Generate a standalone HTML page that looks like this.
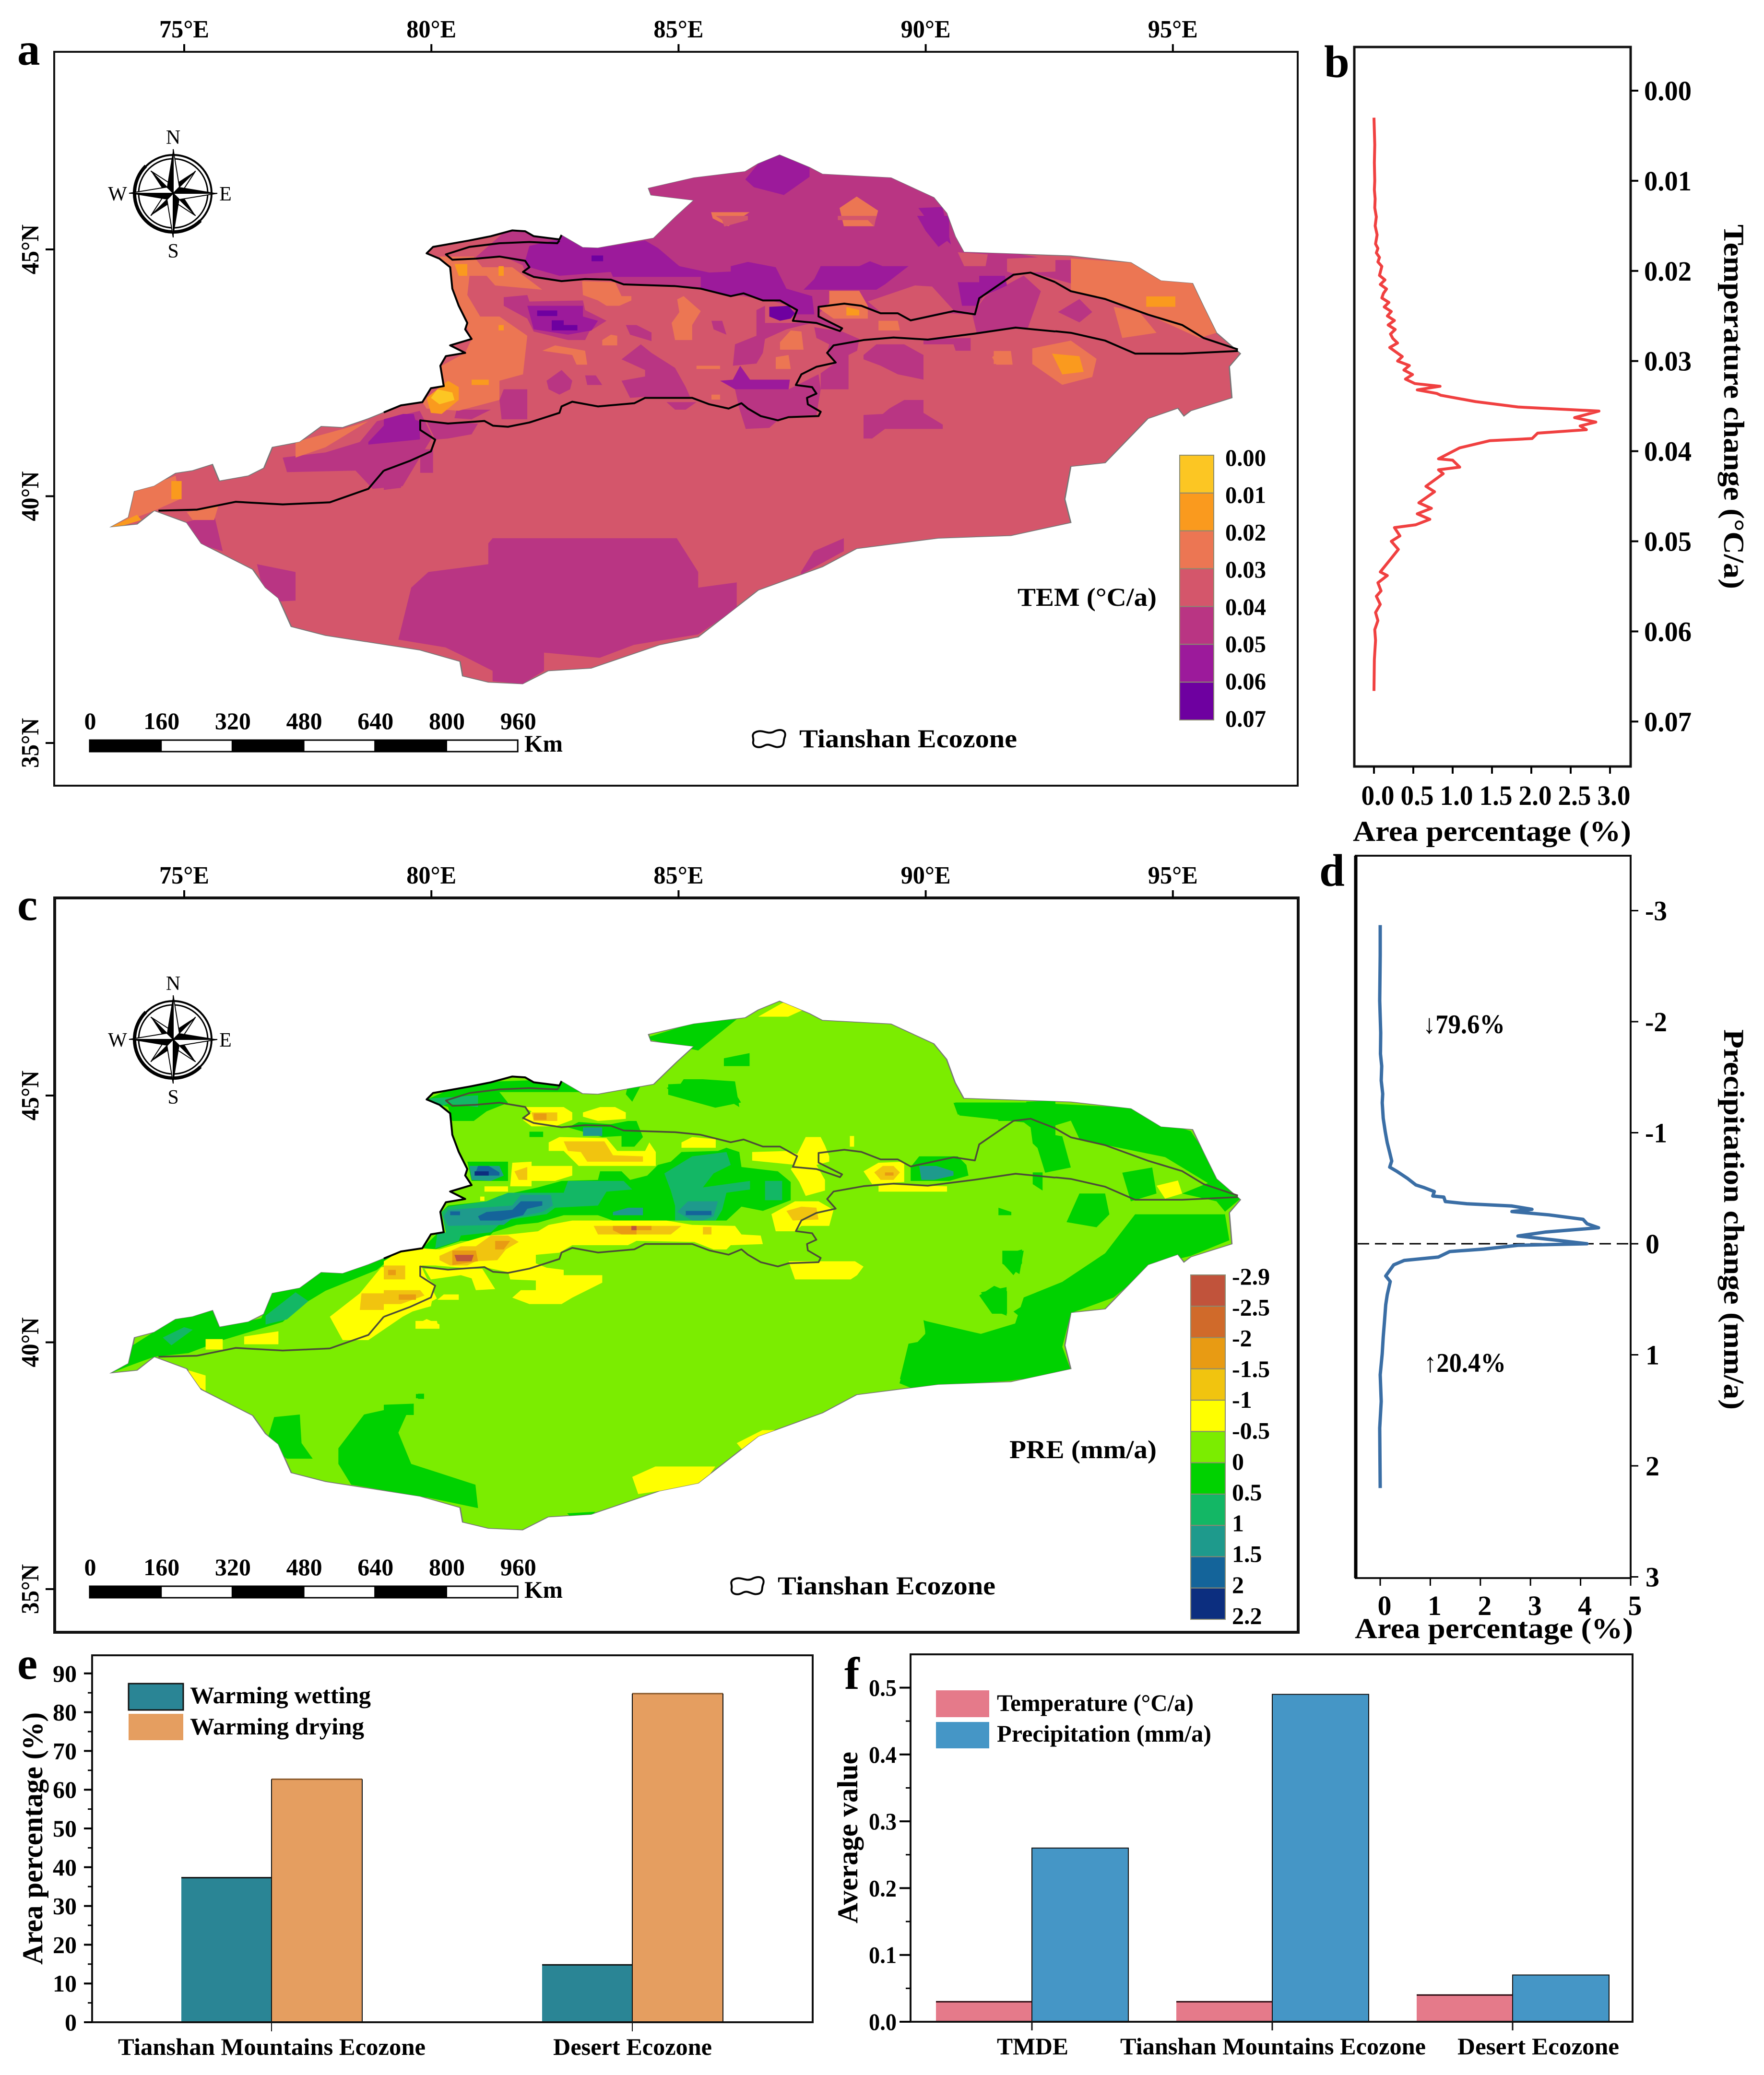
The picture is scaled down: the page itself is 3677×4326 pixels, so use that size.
<!DOCTYPE html>
<html lang="en">
<head>
<meta charset="utf-8">
<title>Tianshan Ecozone temperature and precipitation change</title>
<style>
html,body{margin:0;padding:0;background:#fff}
svg{display:block}
text{font-family:"Liberation Serif","DejaVu Serif",serif;font-weight:bold;fill:#000}
</style>
</head>
<body>
<svg id="fig" xmlns="http://www.w3.org/2000/svg" width="3677" height="4326" viewBox="0 0 3677 4326">
<rect width="3677" height="4326" fill="#fff"/>
<defs>
<path id="outlinePath" transform="scale(1.785714,1.084128)" d="M130,1013 L150,995 155,960 157,945 180,935 205,910 225,905 248,893 256,925 290,915 308,900 318,860 350,850 375,820 400,822 430,805 448,793 468,779 493,773 503,746 518,742 514,703 520,685 543,678 525,664 550,652 543,633 545,621 535,588 528,555 525,514 513,497 498,487 505,475 548,462 573,454 598,443 613,445 623,454 653,460 655,452 680,476 698,477 763,458 790,415 810,385 760,375 757,362 810,342 870,330 885,315 910,298 945,322 960,335 1040,342 1090,380 1105,410 1115,455 1125,485 1250,492 1320,505 1355,540 1392,545 1405,590 1420,640 1448,680 1435,705 1438,765 1390,790 1382,800 1375,785 1340,805 1290,890 1250,897 1243,960 1250,1005 1180,1030 1095,1035 1000,1055 960,1090 885,1135 850,1180 815,1225 770,1240 690,1285 640,1290 610,1315 570,1312 540,1300 537,1272 490,1250 380,1222 340,1205 325,1150 310,1130 295,1095 235,1045 218,1005 180,982 160,1008 Z"/>
<clipPath id="clipMap"><use href="#outlinePath"/></clipPath>
<g id="compass">
<circle r="80" fill="none" stroke="#000" stroke-width="4"/>
<circle r="72" fill="none" stroke="#000" stroke-width="3"/>
<path d="M-57,-57 A80,80 0 0 0 57,57" fill="none" stroke="#000" stroke-width="7"/>
<g id="starDiag"><polygon points="0,-66 -11,-14 0,0" fill="#000"/><polygon points="0,-66 11,-14 0,0" fill="#fff" stroke="#000" stroke-width="2"/></g>
<use href="#starDiag" transform="rotate(45)"/><use href="#starDiag" transform="rotate(135)"/><use href="#starDiag" transform="rotate(225)"/><use href="#starDiag" transform="rotate(315)"/>
<g id="starCard"><polygon points="0,-92 -13,-13 0,0" fill="#000"/><polygon points="0,-92 13,-13 0,0" fill="#fff" stroke="#000" stroke-width="2"/></g>
<use href="#starCard" transform="rotate(90)"/><use href="#starCard" transform="rotate(180)"/><use href="#starCard" transform="rotate(270)"/>
</g>
<path id="blob" d="M4,10 C20,0 30,14 44,8 C58,0 72,4 68,18 C64,26 68,34 60,38 C46,44 38,30 26,36 C12,44 0,38 2,28 C4,20 -2,16 4,10 Z" fill="#fff" stroke="#000" stroke-width="4"/>
</defs>

<!-- PANEL A MAP -->
<g id="mapA">
<use href="#outlinePath" fill="#d4566b" stroke="#777" stroke-width="1.5" vector-effect="non-scaling-stroke"/>
<g clip-path="url(#clipMap)">
<g transform="scale(1.785714,1.084128)">
<g fill="#b93583">
<polygon points="600,430 800,300 1100,300 1160,480 1230,500 1250,500 1250,545 1195,520 1150,565 1135,605 1100,602 1060,612 1030,600 1000,585 965,588 955,605 985,635 960,625 930,620 925,590 900,578 850,565 790,550 730,548 700,535 650,540 615,530 610,510 590,495 555,495"/>
<polygon points="570,1045 575,1035 790,1035 815,1100 815,1130 860,1120 860,1170 815,1220 740,1240 700,1265 635,1255 635,1290 610,1315 575,1310 575,1290 545,1265 520,1245 465,1230 480,1130 500,1100 570,1085"/>
<polygon points="215,1005 250,990 260,1060 230,1045"/>
<polygon points="300,1085 345,1100 345,1155 310,1158"/>
<polygon points="935,1100 950,1060 985,1035 985,1060 935,1105"/>
<polygon points="330,880 380,870 420,850 440,810 490,790 505,840 490,880 470,935 435,940 415,905 335,908"/>
<polygon points="1150,570 1195,530 1215,560 1200,630 1140,640 1135,605"/>
<polygon points="1235,600 1260,575 1275,600 1260,620"/>
</g>
<g fill="#9c1a9b">
<polygon points="870,345 885,315 910,298 945,322 945,340 915,375 880,360"/>
<polygon points="1072,400 1100,398 1110,470 1090,440"/>
<polygon points="430,850 450,815 470,800 490,810 490,845 430,855"/>
</g>
<g fill="#ec7653">
<polygon points="830,408 875,408 850,435 832,420"/>
<polygon points="980,400 1000,378 1025,405 1020,435 985,435"/>
<polygon points="1250,497 1320,505 1392,545 1420,640 1400,650 1340,605 1300,580 1250,560"/>
<polygon points="1300,590 1330,600 1350,640 1310,650"/>
<polygon points="1205,670 1250,655 1280,690 1275,725 1240,740 1205,700"/>
<polygon points="1160,675 1180,675 1182,700 1160,700"/>
<polygon points="130,1013 150,990 155,945 205,915 210,960 180,982"/>
<polygon points="345,850 400,825 430,810 380,860 345,880"/>
<polygon points="218,985 255,972 250,1000 225,1000"/>
</g>
<g fill="#fa9a1e">
<polygon points="1338,570 1372,570 1372,590 1338,590"/>
<polygon points="1228,680 1260,685 1265,715 1240,720"/>
<polygon points="200,925 212,925 212,960 200,960"/>
<polygon points="130,1013 160,990 165,1000 145,1010"/>
</g>
</g>
<g transform="translate(800,450) scale(.892857,.446429)">
<g fill="#b93583">
<polygon points="280,380 335,370 340,400 465,395 470,440 520,490 480,540 470,580 430,580 350,540 335,480 280,420"/>
<polygon points="565,510 590,510 625,545 625,585 575,555"/>
<polygon points="555,670 600,600 625,640 680,710 705,800 715,845 610,845 575,850 555,770 610,750 610,720"/>
<polygon points="380,770 415,720 440,770 435,810 410,835 385,810"/>
<polygon points="470,745 495,745 510,790 475,790"/>
<polygon points="270,860 280,810 335,810 335,950 275,950"/>
<polygon points="170,905 250,905 205,950 165,945"/>
<polygon points="765,490 790,490 800,555 770,530"/>
<polygon points="890,500 1000,500 940,530 890,575 885,640 870,690 815,700 820,600 870,560 870,440 890,420"/>
<polygon points="820,810 945,810 1015,740 1020,810 1010,930 945,935 920,955 900,990 845,995 830,900"/>
<polygon points="1005,520 1070,540 1110,575 1105,630 1085,650 1085,810 1020,810 1020,735 1055,685 1035,640 1040,600 1010,570"/>
<polygon points="1260,575 1370,570 1370,630 1335,630 1330,600 1260,600"/>
<polygon points="1120,650 1150,600 1215,600 1260,650 1260,765 1200,740 1160,700 1120,670"/>
<polygon points="1120,930 1165,925 1180,900 1215,860 1260,860 1260,920 1305,975 1305,995 1170,995 1140,1040 1120,1040"/>
<polygon points="0,1180 0,1280 40,1270 45,1210"/>
<polygon points="85,1090 115,1090 115,1200 85,1200"/>
<polygon points="100,960 220,970 205,1020 150,1040 120,1045"/>
<polygon points="660,870 730,870 705,905 680,905"/>
</g>
<g fill="#9c1a9b">
<polygon points="340,140 410,110 415,90 465,148 500,150 610,115 640,150 690,235 760,265 810,260 810,235 850,215 915,240 940,340 1000,375 1005,460 965,460 960,430 925,395 885,395 840,362 810,375 740,340 740,285 535,285 530,262 410,280 340,240 330,210"/>
<polygon points="1020,235 1110,235 1135,212 1165,235 1225,235 1170,320 1150,345 980,345 1005,295"/>
<polygon points="1340,310 1390,310 1390,280 1450,280 1455,325 1390,385 1385,420 1350,420"/>
<polygon points="1245,0 1320,0 1320,110 1295,145 1265,70"/>
<polygon points="335,420 465,420 465,470 500,490 485,535 430,555 350,530"/>
<polygon points="785,770 815,765 832,700 855,765 948,765 945,810 820,810"/>
<polygon points="0,950 45,925 70,925 85,1040 0,1040"/>
</g>
<g fill="#d4566b">
<polygon points="1130,400 1240,325 1280,330 1330,440 1230,480 1160,450"/>
<polygon points="1340,170 1410,180 1405,235 1355,235"/>
<polygon points="1455,200 1568,190 1568,260 1510,265 1470,270 1455,260"/>
<polygon points="775,0 850,0 850,20 795,50 790,20"/>
<polygon points="1060,0 1150,0 1145,50 1130,20 1060,20"/>
</g>
<g fill="#ec7653">
<polygon points="130,190 210,190 230,240 300,240 370,345 260,325 240,280 200,280 195,370 210,420 225,470 270,470 335,560 325,740 270,770 270,860 175,910 100,900 90,870 135,795 135,700 190,640 205,575 190,500 165,370"/>
<polygon points="463,305 540,310 555,375 578,375 578,395 550,420 520,420 500,395 465,370"/>
<polygon points="685,390 700,375 740,445 720,510 720,580 680,580 672,500 690,450"/>
<polygon points="510,580 530,555 545,560 545,605 510,605"/>
<polygon points="370,630 400,605 470,630 475,695 450,695 440,650"/>
<polygon points="925,590 950,535 975,540 980,625 925,625"/>
<polygon points="915,660 945,650 950,715 915,715"/>
<polygon points="730,700 785,700 785,715 730,715"/>
<polygon points="765,835 785,835 785,858 765,858"/>
<polygon points="1040,350 1110,350 1130,420 1130,480 1050,480 1015,430 1040,410"/>
<polygon points="1155,490 1200,490 1205,535 1155,535"/>
<polygon points="1420,660 1440,630 1465,660 1468,695 1430,695"/>
</g>
<g fill="#fa9a1e">
<polygon points="165,225 195,225 195,280 175,280"/>
<polygon points="268,235 280,235 280,280 268,280"/>
<polygon points="205,765 245,765 245,790 205,790"/>
<polygon points="268,510 280,510 280,535 268,535"/>
<polygon points="100,850 125,810 150,770 175,800 175,860 135,925 110,920"/>
<polygon points="1080,425 1110,440 1110,465 1080,465"/>
</g>
<g fill="#fcc623">
<polygon points="110,850 125,810 160,825 165,860 130,880"/>
</g>
<g fill="#6e00a0">
<polygon points="485,185 512,185 512,212 485,212"/>
<polygon points="358,442 405,442 405,468 358,468"/>
<polygon points="392,488 420,488 420,510 452,510 452,535 392,535"/>
<polygon points="900,425 945,420 960,455 950,480 925,490 900,470"/>
</g>
</g>
</g>
<g id="boundA" fill="none" stroke="#000" stroke-width="4" stroke-linejoin="round">
<g transform="translate(800,450) scale(.892857,.446429)">
<polyline vector-effect="non-scaling-stroke" points="410,115 405,128 340,122 270,128 200,145 145,180 160,205 215,200 270,190 330,210 340,240 325,262 350,285 415,305 470,295 530,298 560,320 680,328 740,340 810,375 840,362 885,395 925,395 965,440 955,490 1010,500 1065,538 1070,525 1015,470 1015,425 1075,410 1115,420 1160,455 1200,455 1230,488 1330,445 1380,460 1390,385 1470,275 1510,265 1568,310"/>
<polyline vector-effect="non-scaling-stroke" points="1568,540 1475,522 1380,550 1270,578 1190,568 1120,580 1050,605 1035,640 1055,685 1010,705 975,740 962,790 1000,800 1010,830 988,850 990,880 1020,915 1015,935 945,940 920,955 880,935 850,900 835,875 805,900 760,880 720,850 610,850 585,875 500,890 440,868 415,890 410,920 340,965 290,985 255,980 235,958 150,970 85,955 85,1000 120,1045 110,1100 60,1145 0,1190"/>
<polyline vector-effect="non-scaling-stroke" points="0,918 40,885 90,870 110,805 140,795 132,700 145,655 190,640 155,605 205,575 190,530 195,500 175,420 160,340 155,240 130,200 100,175 115,145 200,115 250,95 300,68 330,72 350,95 410,110 415,90"/>
</g>
<g transform="scale(1.785714,1.084128)">
<polyline vector-effect="non-scaling-stroke" points="1232,543 1250,560 1290,575 1340,605 1380,625 1405,650 1445,672"/>
<polyline vector-effect="non-scaling-stroke" points="1232,637 1250,640 1290,655 1325,680 1380,680 1445,675"/>
<polyline vector-effect="non-scaling-stroke" points="448,905 430,940 385,966 330,970 275,965 230,980 185,982"/>
</g>
</g>
</g>

<!-- PANEL C MAP -->
<g id="mapC" transform="translate(0,1764)">
<use href="#outlinePath" fill="#7bed00" stroke="#777" stroke-width="1.5" vector-effect="non-scaling-stroke"/>
<g clip-path="url(#clipMap)">
<g transform="translate(0,-13) scale(1.785714,1.084128)">
<g fill="#00d200">
<polygon points="130,1025 150,977 205,920 250,905 258,937 305,920 318,872 375,832 430,817 465,792 440,827 380,867 350,897 330,927 260,962 220,987 180,994 150,1012"/>
<polygon points="320,1110 350,1105 352,1160 365,1190 335,1190 310,1165"/>
<polygon points="395,1170 425,1105 480,1085 465,1140 480,1200 555,1240 558,1285 500,1265 410,1240 395,1200"/>
<polygon points="488,1065 495,1065 495,1075 488,1075"/>
<polygon points="1050,1045 1060,985 1080,950 1080,925 1145,950 1185,930 1195,880 1240,850 1290,795 1325,720 1380,720 1430,720 1435,770 1390,800 1345,818 1300,880 1250,910 1240,975 1250,1020 1180,1040 1090,1050 1065,1055"/>
<polygon points="1245,735 1260,680 1290,680 1295,720 1280,745"/>
<polygon points="1145,870 1175,860 1175,915 1160,905"/>
<polygon points="1170,790 1195,790 1190,835 1170,815"/>
<polygon points="1285,800 1300,800 1300,812 1285,812"/>
<polygon points="1115,505 1200,505 1320,515 1350,540 1390,560 1410,610 1448,690 1430,715 1420,695 1380,680 1410,660 1360,610 1300,590 1260,575 1250,540 1210,560 1205,545 1120,530"/>
<polygon points="1205,560 1240,570 1250,630 1220,640"/>
<polygon points="1310,640 1345,630 1350,680 1320,695"/>
<polygon points="780,470 850,465 865,505 835,515 780,490"/>
<polygon points="845,420 875,410 875,435 845,435"/>
<polygon points="755,380 810,352 860,345 830,385 815,405 760,385"/>
<polygon points="662,1295 695,1292 690,1300 665,1300"/>
</g>
<g fill="#13b765">
<polygon points="310,915 345,870 360,887 335,922 310,932"/>
<polygon points="190,957 215,937 225,942 200,972"/>
</g>
<g fill="#ffff00">
<polygon points="385,917 420,872 445,822 490,812 495,832 510,882 470,917 430,962 400,962"/>
<polygon points="240,960 260,960 260,980 240,980"/>
<polygon points="285,955 325,945 325,970 285,970"/>
<polygon points="485,925 510,925 512,940 485,940"/>
<polygon points="220,1020 240,1030 240,1060 220,1040"/>
<polygon points="738,1225 765,1205 835,1205 820,1240 745,1258"/>
<polygon points="860,1160 890,1135 915,1135 870,1180"/>
<polygon points="885,340 915,312 940,325 920,340"/>
<polygon points="1350,665 1375,655 1380,680 1360,690"/>
</g>
<g fill="#f1c40f">
<polygon points="422,872 488,872 488,904 420,904"/>
<polygon points="450,830 470,830 470,850 450,850"/>
</g>
</g>
<g transform="translate(800,486) scale(.892857,.446429)">
<g fill="#00d200">
<polygon points="660,40 690,30 700,0 745,0 820,10 830,130 805,100 755,55 725,80 685,80"/>
<polygon points="570,30 600,30 580,105 565,70"/>
<polygon points="100,95 140,60 270,10 410,0 460,60 410,60 270,60 290,110 240,150 210,195 160,195 150,130"/>
<polygon points="1330,110 1430,110 1430,130 1500,130 1500,105 1568,100 1568,400 1515,300 1510,225 1490,195 1435,195 1430,165 1340,165"/>
<polygon points="455,200 530,210 570,195 590,195 605,270 585,315 555,315 555,265 510,270 430,225"/>
<polygon points="340,245 372,245 372,270 340,270"/>
<polygon points="415,475 500,470 505,430 555,430 575,470 615,450 640,400 670,385 695,340 780,335 800,320 830,340 835,410 920,430 950,480 950,565 885,615 835,595 800,660 535,660 500,635 420,635 360,670 310,680 255,715 235,755 180,755 120,795 90,790 125,720 145,715 135,620 150,590 240,570 270,545 360,505"/>
<polygon points="1230,410 1250,360 1340,360 1360,400 1365,450 1320,475 1230,475"/>
<polygon points="1205,1400 1225,1235 1280,1215 1265,1190 1260,1125 1320,1170 1345,1190 1420,1190 1425,1210 1490,1190 1510,1150 1470,1085 1530,1010 1568,985 1568,1400"/>
<polygon points="1390,1010 1425,965 1455,990 1455,1095 1420,1095"/>
<polygon points="1445,820 1490,795 1490,860 1470,915 1445,860"/>
<polygon points="1435,600 1465,620 1465,635 1435,635"/>
<polygon points="75,1470 92,1470 92,1490 75,1490"/>
<polygon points="0,1520 70,1515 70,1568 0,1568"/>
<polygon points="1515,435 1538,435 1538,520 1515,490"/>
<polygon points="195,385 290,385 290,475 205,475"/>
</g>
<g fill="#13b765">
<polygon points="105,90 220,75 220,130 150,115 135,125"/>
<polygon points="420,530 430,475 560,475 580,515 520,525 500,590 400,600 380,630 280,660 250,715 180,730 175,755 120,790 125,720 145,715 135,620 150,595 240,570 290,530"/>
<polygon points="655,440 720,360 800,340 810,400 770,440 745,505 855,475 855,515 800,530 790,610 775,660 680,660 680,590 670,520"/>
<polygon points="890,475 930,475 930,565 890,565"/>
</g>
<g fill="#1e9a8c">
<polygon points="465,225 510,225 510,265 465,265"/>
<polygon points="150,610 300,590 320,540 390,540 395,590 370,620 300,650 280,680 150,685 140,640"/>
<polygon points="685,620 710,570 780,570 770,640 745,660 720,660"/>
<polygon points="535,620 570,600 605,600 605,635 535,635"/>
<polygon points="200,405 270,405 280,450 250,475 205,470"/>
<polygon points="1250,405 1290,405 1330,430 1330,450 1285,470 1255,470"/>
</g>
<g fill="#14649a">
<polygon points="220,640 240,620 300,610 320,570 370,570 370,590 335,605 325,635 275,660 225,660"/>
<polygon points="705,615 765,615 765,635 705,635"/>
<polygon points="220,405 245,405 270,435 270,450 212,450"/>
<polygon points="155,617 178,617 178,635 155,635"/>
</g>
<g fill="#0c2e7f">
<polygon points="212,430 245,430 245,450 212,450"/>
</g>
<g fill="#ffff00">
<polygon points="325,130 420,130 440,155 440,190 400,220 345,220 325,190 345,150"/>
<polygon points="465,155 505,130 540,130 565,155 565,185 500,195 465,175"/>
<polygon points="385,295 410,270 520,275 545,335 610,335 620,295 635,340 635,405 455,405 420,335 385,335"/>
<polygon points="695,295 720,270 775,280 775,320 695,320"/>
<polygon points="860,340 945,335 965,350 985,270 1020,270 1030,310 1040,360 1040,385 1010,400 1030,470 1030,520 985,545 970,480 950,420 960,400 860,380"/>
<polygon points="1088,265 1098,265 1098,315 1088,315"/>
<polygon points="300,390 345,385 345,405 440,405 440,450 400,475 345,475 345,500 295,500"/>
<polygon points="235,500 290,500 290,525 235,525"/>
<polygon points="1120,430 1155,390 1215,385 1215,480 1140,490"/>
<polygon points="1155,490 1315,500 1315,525 1155,525"/>
<polygon points="905,630 960,570 1015,570 1050,610 1040,685 975,685 960,710 915,710"/>
<polygon points="0,850 40,800 90,790 130,795 240,730 290,725 360,710 385,680 440,660 660,660 720,680 820,685 835,725 880,730 885,770 810,775 800,795 770,795 725,760 590,755 570,775 440,775 410,810 355,820 355,860 380,880 300,905 240,880 180,880 120,870 90,870 80,900 120,960 110,1060 40,1100 0,1165"/>
<polygon points="95,885 230,885 260,980 215,985 205,930 180,915 110,935"/>
<polygon points="290,895 380,880 420,890 420,915 510,915 510,950 440,1020 415,1050 340,1050 300,1020 320,985 355,985 355,940 295,935"/>
<polygon points="140,1005 175,1005 175,1030 125,1030"/>
<polygon points="75,1145 100,1120 130,1145 130,1165 75,1165"/>
<polygon points="945,850 1100,850 1120,875 1105,915 1090,935 960,935"/>
<polygon points="225,548 235,548 235,568 225,568"/>
</g>
<g fill="#f1c40f">
<polygon points="345,155 405,155 405,195 350,195"/>
<polygon points="420,290 515,290 535,355 605,360 605,385 475,385 460,340 430,335"/>
<polygon points="305,430 335,410 335,470 315,470"/>
<polygon points="1145,435 1165,405 1190,405 1205,435 1190,470 1160,470"/>
<polygon points="940,615 975,595 1010,600 1015,655 955,660"/>
<polygon points="490,685 695,685 670,725 500,725"/>
<polygon points="745,690 765,690 765,725 745,725"/>
<polygon points="130,825 180,780 215,780 250,730 290,730 315,760 285,795 265,845 215,850 195,870 155,870 130,845"/>
<polygon points="0,870 50,870 50,935 0,935"/>
<polygon points="0,985 85,985 95,1010 40,1050 0,1050"/>
</g>
<g fill="#e89b13">
<polygon points="1170,435 1190,435 1190,450 1170,450"/>
<polygon points="535,685 625,685 625,705 590,705 590,725 555,725 535,705"/>
<polygon points="160,800 215,800 220,850 160,868"/>
<polygon points="260,755 295,755 280,795 260,795"/>
<polygon points="10,890 28,890 28,915 10,915"/>
<polygon points="35,1005 75,1005 75,1030 35,1030"/>
<polygon points="350,160 380,160 380,190 350,190"/>
</g>
<g fill="#c1533b">
<polygon points="165,820 210,820 205,850 170,850"/>
<polygon points="578,685 590,685 590,705 578,705"/>
</g>
</g>
</g>
<g fill="none" stroke="#4c4c38" stroke-width="3.5" stroke-linejoin="round">
<g transform="translate(800,450) scale(.892857,.446429)">
<polyline vector-effect="non-scaling-stroke" points="410,115 405,128 340,122 270,128 200,145 145,180 160,205 215,200 270,190 330,210 340,240 325,262 350,285 415,305 470,295 530,298 560,320 680,328 740,340 810,375 840,362 885,395 925,395 965,440 955,490 1010,500 1065,538 1070,525 1015,470 1015,425 1075,410 1115,420 1160,455 1200,455 1230,488 1330,445 1380,460 1390,385 1470,275 1510,265 1568,310"/>
<polyline vector-effect="non-scaling-stroke" points="1568,540 1475,522 1380,550 1270,578 1190,568 1120,580 1050,605 1035,640 1055,685 1010,705 975,740 962,790 1000,800 1010,830 988,850 990,880 1020,915 1015,935 945,940 920,955 880,935 850,900 835,875 805,900 760,880 720,850 610,850 585,875 500,890 440,868 415,890 410,920 340,965 290,985 255,980 235,958 150,970 85,955 85,1000 120,1045 110,1100 60,1145 0,1190"/>
</g>
<g transform="scale(1.785714,1.084128)">
<polyline vector-effect="non-scaling-stroke" points="1232,543 1250,560 1290,575 1340,605 1380,625 1405,650 1445,672"/>
<polyline vector-effect="non-scaling-stroke" points="1232,637 1250,640 1290,655 1325,680 1380,680 1445,675"/>
<polyline vector-effect="non-scaling-stroke" points="448,905 430,940 385,966 330,970 275,965 230,980 185,982"/>
</g>
</g>
<g transform="translate(800,450) scale(.892857,.446429)" fill="none" stroke="#000" stroke-width="4" stroke-linejoin="round">
<polyline vector-effect="non-scaling-stroke" points="0,918 40,885 90,870 110,805 140,795 132,700 145,655 190,640 155,605 205,575 190,530 195,500 175,420 160,340 155,240 130,200 100,175 115,145 200,115 250,95 300,68 330,72 350,95 410,110 415,90"/>
</g>
</g>

<!-- compass roses -->
<use href="#compass" transform="translate(361,403)"/>
<use href="#compass" transform="translate(361,2167)"/>

<!-- scale icons / tianshan keys -->
<use href="#blob" transform="translate(1568,1518)"/>
<use href="#blob" transform="translate(1523,3284)"/>
<text x="1666" y="1558" font-size="54" textLength="454" lengthAdjust="spacingAndGlyphs">Tianshan Ecozone</text>
<text x="1621" y="3324" font-size="54" textLength="454" lengthAdjust="spacingAndGlyphs">Tianshan Ecozone</text>
<text x="2121" y="1263" font-size="54" textLength="290" lengthAdjust="spacingAndGlyphs">TEM (°C/a)</text>
<text x="2104" y="3040" font-size="54" textLength="307" lengthAdjust="spacingAndGlyphs">PRE (mm/a)</text>

<!-- panel letters -->
<text x="36" y="135" font-size="95">a</text>
<text x="2760" y="161" font-size="95">b</text>
<text x="36" y="1918" font-size="95">c</text>
<text x="2750" y="1847" font-size="95">d</text>
<text x="36" y="3500" font-size="95">e</text>
<text x="1760" y="3521" font-size="95">f</text>

<!-- axis titles -->
<text x="2820" y="1753" font-size="60" textLength="580" lengthAdjust="spacingAndGlyphs">Area percentage (%)</text>
<text x="2824" y="3415" font-size="60" textLength="580" lengthAdjust="spacingAndGlyphs">Area percentage (%)</text>
<text transform="translate(3594,468) rotate(90)" font-size="60" textLength="760" lengthAdjust="spacingAndGlyphs">Temperature change (°C/a)</text>
<text transform="translate(3594,2146) rotate(90)" font-size="60" textLength="793" lengthAdjust="spacingAndGlyphs">Precipitation change (mm/a)</text>
<text transform="translate(88,4096) rotate(-90)" font-size="60" textLength="526" lengthAdjust="spacingAndGlyphs">Area percentage (%)</text>
<text transform="translate(1787,4010) rotate(-90)" font-size="60" textLength="358" lengthAdjust="spacingAndGlyphs">Average value</text>
<text x="2966" y="2154" font-size="56" textLength="171" lengthAdjust="spacingAndGlyphs">↓79.6%</text>
<text x="2968" y="2860" font-size="56" textLength="171" lengthAdjust="spacingAndGlyphs">↑20.4%</text>

<!-- legends for e and f -->
<rect x="268" y="3510" width="114" height="55" fill="#2a8595" stroke="#111" stroke-width="3"/>
<rect x="268" y="3573" width="114" height="55" fill="#e59e60"/>
<text x="396" y="3551" font-size="50" textLength="377" lengthAdjust="spacingAndGlyphs">Warming wetting</text>
<text x="396" y="3616" font-size="50" textLength="363" lengthAdjust="spacingAndGlyphs">Warming drying</text>
<rect x="1951" y="3524" width="111" height="56" fill="#e57a8a"/>
<rect x="1951" y="3590" width="111" height="55" fill="#4596c6"/>
<text x="2078" y="3567" font-size="50" textLength="410" lengthAdjust="spacingAndGlyphs">Temperature (°C/a)</text>
<text x="2078" y="3631" font-size="50" textLength="447" lengthAdjust="spacingAndGlyphs">Precipitation (mm/a)</text>

<g id="dyn"></g>
</svg>

<script>
/* ---- map axes and legends ---- */
const lonTicks = ['75°E','80°E','85°E','90°E','95°E'];
const latTicks = ['45°N','40°N','35°N'];
const scaleLabels = ['0','160','320','480','640','800','960'];
const temLegendClasses = ['0.00','0.01','0.02','0.03','0.04','0.05','0.06','0.07'];
const temLegendColors = ['#fcc623','#fa9a1e','#ec7653','#d4566b','#b93583','#9c1a9b','#6e00a0'];
const preLegendClasses = ['-2.9','-2.5','-2','-1.5','-1','-0.5','0','0.5','1','1.5','2','2.2'];
const preLegendColors = ['#c1533b','#d06a2a','#e89b13','#f1c40f','#ffff00','#7bed00','#00d200','#13b765','#1e9a8c','#14649a','#0c2e7f'];

/* ---- panel b: temperature change distribution ---- */
const tempChange = [.003,.006,.008,.010,.011,.012,.013,.014,.015,.016,.017,.0175,.018,.0185,.019,.0195,.0205,.021,.0215,.022,.0225,.023,.0235,.024,.0245,.025,.0255,.026,.0265,.027,.0275,.028,.0285,.029,.0295,.030,.0305,.031,.0315,.032,.0325,.0328,.0332,.0336,.0338,.0345,.0351,.03555,.03628,.03677,.0372,.03762,.038,.0386,.03884,.03963,.04085,.0410,.04177,.04207,.0425,.0439,.0445,.04573,.04634,.04695,.04756,.04817,.04848,.0494,.05,.0509,.0521,.0534,.0538,.0546,.0555,.0561,.057,.0579,.0588,.0598,.061,.0631,.0666];
const tempArea = [0,.01,.005,.01,.005,.015,.01,.03,.015,.04,.02,.05,.03,.07,.05,.10,.07,.14,.08,.16,.12,.10,.19,.13,.22,.17,.26,.18,.27,.21,.24,.30,.20,.28,.36,.30,.45,.38,.49,.40,.52,.84,.55,.80,.85,1.29,1.83,2.86,2.55,2.82,2.62,2.70,2.08,2.01,1.47,1.09,.82,1.0,1.09,.82,.88,.66,.77,.57,.73,.55,.71,.53,.26,.33,.22,.31,.20,.08,.17,.05,.09,.03,.08,.02,.05,.01,.02,.005,0];
const bXTicks = ['0.0','0.5','1.0','1.5','2.0','2.5','3.0'];
const bYTicks = ['0.00','0.01','0.02','0.03','0.04','0.05','0.06','0.07'];

/* ---- panel d: precipitation change distribution ---- */
const precipChange = [-2.87,-2.6,-2.19,-1.9,-1.71,-1.6,-1.47,-1.35,-1.27,-1.13,-1.01,-.91,-.82,-.745,-.69,-.65,-.59,-.53,-.505,-.47,-.43,-.42,-.38,-.36,-.34,-.31,-.29,-.26,-.22,-.18,-.144,-.106,-.07,-.034,0,.014,.048,.07,.12,.15,.19,.29,.34,.46,.55,.7,.84,.99,1.18,1.42,1.66,2.2];
const precipArea = [0,0,-.01,.01,.005,.03,.02,.05,.04,.06,.1,.14,.19,.23,.19,.34,.54,.71,.88,1.08,1.05,1.27,1.3,1.73,2.63,3.03,2.63,3.37,4.05,4.13,4.36,3.31,2.75,3.48,4.13,2.75,2.07,1.39,1.16,.48,.27,.11,.2,.14,.11,.085,.06,.04,0,.02,-.01,0];
const dXTicks = ['0','1','2','3','4','5'];
const dYTicks = ['-3','-2','-1','0','1','2','3'];

/* ---- panel e ---- */
const eCategories = ['Tianshan Mountains Ecozone','Desert Ecozone'];
const eWetting = [37.3,14.8];
const eDrying = [62.7,84.8];
const eYTicks = ['0','10','20','30','40','50','60','70','80','90'];

/* ---- panel f ---- */
const fCategories = ['TMDE','Tianshan Mountains Ecozone','Desert Ecozone'];
const fTemperature = [.03,.03,.04];
const fPrecipitation = [.26,.49,.07];
const fYTicks = ['0.0','0.1','0.2','0.3','0.4','0.5'];

const NS = 'http://www.w3.org/2000/svg';
const layer = document.getElementById('dyn');
function mk(tag, attrs, text) {
  const n = document.createElementNS(NS, tag);
  for (const k in attrs) n.setAttribute(k, attrs[k]);
  if (text !== undefined) n.textContent = text;
  layer.appendChild(n);
  return n;
}
function rectFrame(x0, y0, x1, y1, w) {
  return mk('rect', {x: x0, y: y0, width: x1 - x0, height: y1 - y0, fill: 'none', stroke: '#111', 'stroke-width': w});
}
let e;

/* axis functions */
const lonX = i => 384 + i * 515.2;
const latY = (i, off) => off + 520 + i * 514.5;
const scaleX = i => 187 + i * 148.7;
const bX = v => 2864 + v * 164;
const bY = v => 189 + v * 18790;
const dX = v => 2877 + v * 104.4;
const dY = v => 2593 + v * 231.5;
const eY = v => 4216 - v * 8.08;
const eX = i => 566 + i * 752;
const fY = v => 4215 - v * 1393;
const fX = i => 2151 + i * 501;

/* map frames */
e = rectFrame(113, 108, 2705, 1638, 4);


e = rectFrame(114, 1872, 2706, 3403, 6);



[0, 1764].forEach(function (off) {
  lonTicks.forEach(function (lab, i) {
    e = mk('line', {x1: lonX(i), x2: lonX(i), y1: off + 108, y2: off + 92, stroke: '#000', 'stroke-width': 4});
    
    
    e = mk('text', {x: lonX(i), y: off + 78, 'font-size': 52, 'text-anchor': 'middle', textLength: 104, lengthAdjust: 'spacingAndGlyphs'}, lab);
    
    
  });
  latTicks.forEach(function (lab, i) {
    e = mk('line', {x1: 95, x2: 113, y1: latY(i, off), y2: latY(i, off), stroke: '#000', 'stroke-width': 4});
    
    
    e = mk('text', {transform: 'translate(80,' + latY(i, off) + ') rotate(-90)', 'font-size': 52, 'text-anchor': 'middle', textLength: 104, lengthAdjust: 'spacingAndGlyphs'}, lab);
    
    
  });
  scaleLabels.forEach(function (lab, i) {
    e = mk('text', {x: scaleX(i) + 1, y: off + 1520, 'font-size': 50, 'text-anchor': 'middle'}, lab);
    
    
    if (i < scaleLabels.length - 1) {
      e = mk('rect', {x: scaleX(i), y: off + 1543, width: 148.7, height: 24, fill: i % 2 ? '#fff' : '#000', stroke: '#000', 'stroke-width': 3});
      
      
    }
  });
  e = mk('text', {x: 1093, y: off + 1567, 'font-size': 50, textLength: 80, lengthAdjust: 'spacingAndGlyphs'}, 'Km');
  
  
  [['N', 361, 300], ['S', 361, 537], ['W', 245, 418], ['E', 470, 418]].forEach(function (c) {
    e = mk('text', {x: c[1], y: off + c[2], 'font-size': 42, 'text-anchor': 'middle', style: 'font-weight:normal'}, c[0]);
    
    
  });
});

/* TEM legend */
const temRowH = (1501 - 949) / 7;
const temLabelStep = 77.7;
temLegendColors.forEach(function (c, i) {
  e = mk('rect', {x: 2459, y: 949 + i * temRowH, width: 71, height: temRowH, fill: c, stroke: '#8a8a70', 'stroke-width': 2});
  
  
});
temLegendClasses.forEach(function (lab, i) {
  e = mk('text', {x: 2554, y: 971 + i * temLabelStep, 'font-size': 50, textLength: 85, lengthAdjust: 'spacingAndGlyphs'}, lab);
  
  
});

/* PRE legend */
const preRowH = (3376 - 2658) / 11;
const preLabelStep = 64.3;
preLegendColors.forEach(function (c, i) {
  e = mk('rect', {x: 2482, y: 2658 + i * preRowH, width: 72, height: preRowH, fill: c, stroke: '#8a8a70', 'stroke-width': 2});
  
  
});
preLegendClasses.forEach(function (lab, i) {
  e = mk('text', {x: 2568, y: 2678 + i * preLabelStep, 'font-size': 50}, lab);
  
  
});

/* panel b */
e = mk('polyline', {points: tempChange.map((t, i) => bX(tempArea[i]) + ',' + bY(t)).join(' '), fill: 'none', stroke: '#f04040', 'stroke-width': 6, 'stroke-linejoin': 'round'});


e = mk('rect', {x: 2823, y: 98, width: 576, height: 1500, fill: 'none', stroke: '#111', 'stroke-width': 5});


bXTicks.forEach(function (lab, i) {
  const v = parseFloat(lab);
  e = mk('line', {x1: bX(v), x2: bX(v), y1: 1598, y2: 1613, stroke: '#000', 'stroke-width': 4});
  
  
  e = mk('text', {x: bX(v) + 8, y: 1678, 'font-size': 58, 'text-anchor': 'middle', textLength: 69, lengthAdjust: 'spacingAndGlyphs'}, lab);
  
  
});
bYTicks.forEach(function (lab, i) {
  const v = parseFloat(lab);
  e = mk('line', {x1: 3399, x2: 3415, y1: bY(v), y2: bY(v), stroke: '#000', 'stroke-width': 4});
  
  
  e = mk('text', {x: 3427, y: bY(v) + 20, 'font-size': 58, textLength: 99, lengthAdjust: 'spacingAndGlyphs'}, lab);
  
  
});

/* panel d */
e = mk('line', {x1: 2830, x2: 3399, y1: dY(0), y2: dY(0), stroke: '#000', 'stroke-width': 3, 'stroke-dasharray': '24 12'});


e = mk('polyline', {points: precipChange.map((t, i) => dX(precipArea[i]) + ',' + dY(t)).join(' '), fill: 'none', stroke: '#3a6ea5', 'stroke-width': 7, 'stroke-linejoin': 'round'});


e = mk('rect', {x: 2826, y: 1784, width: 573, height: 1506, fill: 'none', stroke: '#111', 'stroke-width': 4});


e = mk('line', {x1: 2826, x2: 2826, y1: 1784, y2: 3290, stroke: '#000', 'stroke-width': 7});


dXTicks.forEach(function (lab) {
  const v = parseFloat(lab);
  e = mk('line', {x1: dX(v), x2: dX(v), y1: 3290, y2: 3306, stroke: '#000', 'stroke-width': 3});
  
  
  e = mk('text', {x: dX(v) + 9, y: 3367, 'font-size': 58, 'text-anchor': 'middle'}, lab);
  
  
});
dYTicks.forEach(function (lab) {
  const v = parseFloat(lab);
  e = mk('line', {x1: 3399, x2: 3415, y1: dY(v), y2: dY(v), stroke: '#000', 'stroke-width': 3});
  
  
  if (v < 0) {
    e = mk('text', {x: 3429, y: dY(v) + 20, 'font-size': 58, textLength: 46, lengthAdjust: 'spacingAndGlyphs'}, lab);
  } else {
    e = mk('text', {x: 3430, y: dY(v) + 20, 'font-size': 58}, lab);
  }
  
  
});

/* panel e */
eCategories.forEach(function (cat, i) {
  e = mk('rect', {x: eX(i) - 188, y: eY(eWetting[i]), width: 188, height: eY(0) - eY(eWetting[i]), fill: '#2a8595'});
  
  
  e = mk('rect', {x: eX(i), y: eY(eDrying[i]), width: 189, height: eY(0) - eY(eDrying[i]), fill: '#e59e60'});
  
  
  e = mk('line', {x1: eX(i) - 188, x2: eX(i), y1: eY(eWetting[i]), y2: eY(eWetting[i]), stroke: '#111', 'stroke-width': 3});
  
  
  e = mk('line', {x1: eX(i), x2: eX(i) + 189, y1: eY(eDrying[i]), y2: eY(eDrying[i]), stroke: '#8a5a2c', 'stroke-width': 3});
  
  
  e = mk('line', {x1: eX(i), x2: eX(i), y1: eY(eDrying[i]), y2: 4235, stroke: '#111', 'stroke-width': 2});
  
  
  e = mk('line', {x1: eX(i) + 189, x2: eX(i) + 189, y1: eY(eDrying[i]), y2: 4216, stroke: '#111', 'stroke-width': 2});
  
  
});
e = mk('text', {x: 246, y: 4284, 'font-size': 50, textLength: 641, lengthAdjust: 'spacingAndGlyphs'}, eCategories[0]);


e = mk('text', {x: 1153, y: 4284, 'font-size': 50, textLength: 331, lengthAdjust: 'spacingAndGlyphs'}, eCategories[1]);


e = mk('rect', {x: 192, y: 3451, width: 1502, height: 765, fill: 'none', stroke: '#111', 'stroke-width': 4});


eYTicks.forEach(function (lab) {
  const v = parseFloat(lab);
  e = mk('line', {x1: 175, x2: 192, y1: eY(v), y2: eY(v), stroke: '#000', 'stroke-width': 4});
  
  
  if (v < 90) {
    e = mk('line', {x1: 183, x2: 192, y1: eY(v + 5), y2: eY(v + 5), stroke: '#000', 'stroke-width': 3});
    
    
  }
  e = mk('text', {x: 160, y: eY(v) + 17, 'font-size': 50, 'text-anchor': 'end'}, lab);
  
  
});

/* panel f */
fCategories.forEach(function (cat, i) {
  e = mk('rect', {x: fX(i) - 200, y: fY(fTemperature[i]), width: 200, height: fY(0) - fY(fTemperature[i]), fill: '#e57a8a'});
  
  
  e = mk('rect', {x: fX(i), y: fY(fPrecipitation[i]), width: 201, height: fY(0) - fY(fPrecipitation[i]), fill: '#4596c6', stroke: '#111', 'stroke-width': 2});
  
  
  e = mk('line', {x1: fX(i) - 200, x2: fX(i), y1: fY(fTemperature[i]), y2: fY(fTemperature[i]), stroke: '#2a0a10', 'stroke-width': 3});
  
  
  e = mk('line', {x1: fX(i), x2: fX(i), y1: 4215, y2: 4233, stroke: '#111', 'stroke-width': 3});
  
  
});
e = mk('text', {x: 2078, y: 4283, 'font-size': 50, textLength: 149, lengthAdjust: 'spacingAndGlyphs'}, fCategories[0]);


e = mk('text', {x: 2335, y: 4283, 'font-size': 50, textLength: 637, lengthAdjust: 'spacingAndGlyphs'}, fCategories[1]);


e = mk('text', {x: 3038, y: 4283, 'font-size': 50, textLength: 337, lengthAdjust: 'spacingAndGlyphs'}, fCategories[2]);


e = mk('rect', {x: 1898, y: 3449, width: 1505, height: 766, fill: 'none', stroke: '#111', 'stroke-width': 4});


fYTicks.forEach(function (lab) {
  const v = parseFloat(lab);
  e = mk('line', {x1: 1875, x2: 1898, y1: fY(v), y2: fY(v), stroke: '#000', 'stroke-width': 4});
  
  
  if (v < 0.5) {
    e = mk('line', {x1: 1888, x2: 1898, y1: fY(v + 0.05), y2: fY(v + 0.05), stroke: '#000', 'stroke-width': 3});
    
    
  }
  e = mk('text', {x: 1869, y: fY(v) + 17, 'font-size': 50, 'text-anchor': 'end', textLength: 58, lengthAdjust: 'spacingAndGlyphs'}, lab);
  
  
});
</script>
</body>
</html>
